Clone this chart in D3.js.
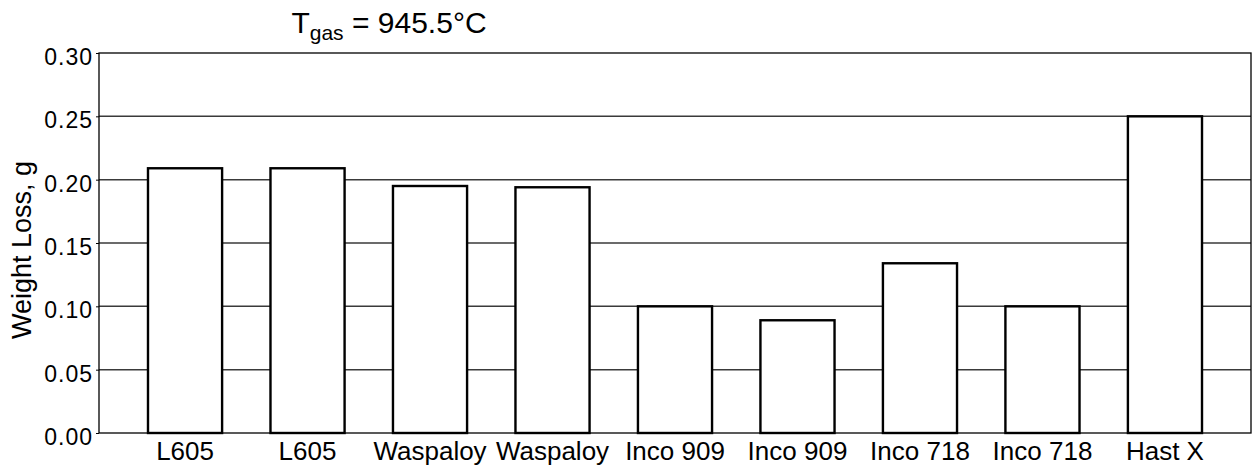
<!DOCTYPE html>
<html>
<head>
<meta charset="utf-8">
<script src="https://cdn.jsdelivr.net/npm/d3@7"></script>
<style>
  html, body { margin: 0; padding: 0; background: #fff; }
  svg { display: block; }
  text { font-family: "Liberation Sans", Arial, sans-serif; fill: #000; }
</style>
</head>
<body>
<svg id="chart" width="1258" height="476"></svg>
<script>
const categories = ["L605", "L605", "Waspaloy", "Waspaloy", "Inco 909", "Inco 909", "Inco 718", "Inco 718", "Hast X"];
const weightLoss = [0.209, 0.209, 0.195, 0.194, 0.100, 0.089, 0.134, 0.100, 0.250];
const yTicks = [0.00, 0.05, 0.10, 0.15, 0.20, 0.25, 0.30];

const W = 1258, H = 476;
const margin = { left: 99, right: 7, top: 53, bottom: 43 };
const svg = d3.select("#chart");

const x = d3.scaleBand()
  .domain(d3.range(categories.length))
  .range([margin.left, W - margin.right])
  .paddingInner(0.395)
  .paddingOuter(0.4);

const y = d3.scaleLinear()
  .domain([0, 0.30])
  .range([H - margin.bottom, margin.top]);

// gridlines
svg.append("g")
  .selectAll("line")
  .data(yTicks.filter(t => t > 0 && t < 0.30))
  .join("line")
  .attr("x1", margin.left).attr("x2", W - margin.right)
  .attr("y1", d => y(d)).attr("y2", d => y(d))
  .attr("stroke", "#3a3a3a").attr("stroke-width", 1.5);

// bars
svg.append("g")
  .selectAll("rect")
  .data(weightLoss)
  .join("rect")
  .attr("x", (d, i) => x(i))
  .attr("width", x.bandwidth())
  .attr("y", d => y(d))
  .attr("height", d => y(0) - y(d))
  .attr("fill", "#fff")
  .attr("stroke", "#000")
  .attr("stroke-width", 2.4);

// frame
svg.append("rect")
  .attr("x", margin.left).attr("y", margin.top)
  .attr("width", W - margin.left - margin.right)
  .attr("height", H - margin.top - margin.bottom)
  .attr("fill", "none").attr("stroke", "#000").attr("stroke-width", 1.3);

// y axis
const yAxis = d3.axisLeft(y).tickValues(yTicks).tickFormat(d3.format(".2f")).tickSize(3).tickPadding(3);
const ya = svg.append("g").attr("transform", `translate(${margin.left},0)`).call(yAxis);
ya.select(".domain").remove();
ya.selectAll(".tick line").attr("stroke", "#000");
ya.selectAll(".tick text").style("font-size", "23px").style("letter-spacing", "1px")
  .attr("dy", "0.5em")
  .attr("font-family", "Liberation Sans, Arial, sans-serif").attr("fill", "#000");

// x axis labels
const xAxis = d3.axisBottom(x).tickFormat(i => categories[i]).tickSize(0).tickPadding(9);
const xa = svg.append("g").attr("transform", `translate(0,${H - margin.bottom})`).call(xAxis);
xa.select(".domain").remove();
xa.selectAll(".tick text").style("font-size", "26px")
  .attr("font-family", "Liberation Sans, Arial, sans-serif").attr("fill", "#000");

// y label
svg.append("text")
  .attr("transform", `translate(31,250) rotate(-90)`)
  .attr("text-anchor", "middle")
  .style("font-size", "27px")
  .text("Weight Loss, g");

// title
const title = svg.append("text")
  .attr("x", 389).attr("y", 33)
  .attr("text-anchor", "middle")
  .style("font-size", "30px");
title.append("tspan").text("T");
title.append("tspan").attr("dy", 7).style("font-size", "21px").text("gas");
title.append("tspan").attr("dy", -7).text(" = 945.5°C");
</script>
</body>
</html>
